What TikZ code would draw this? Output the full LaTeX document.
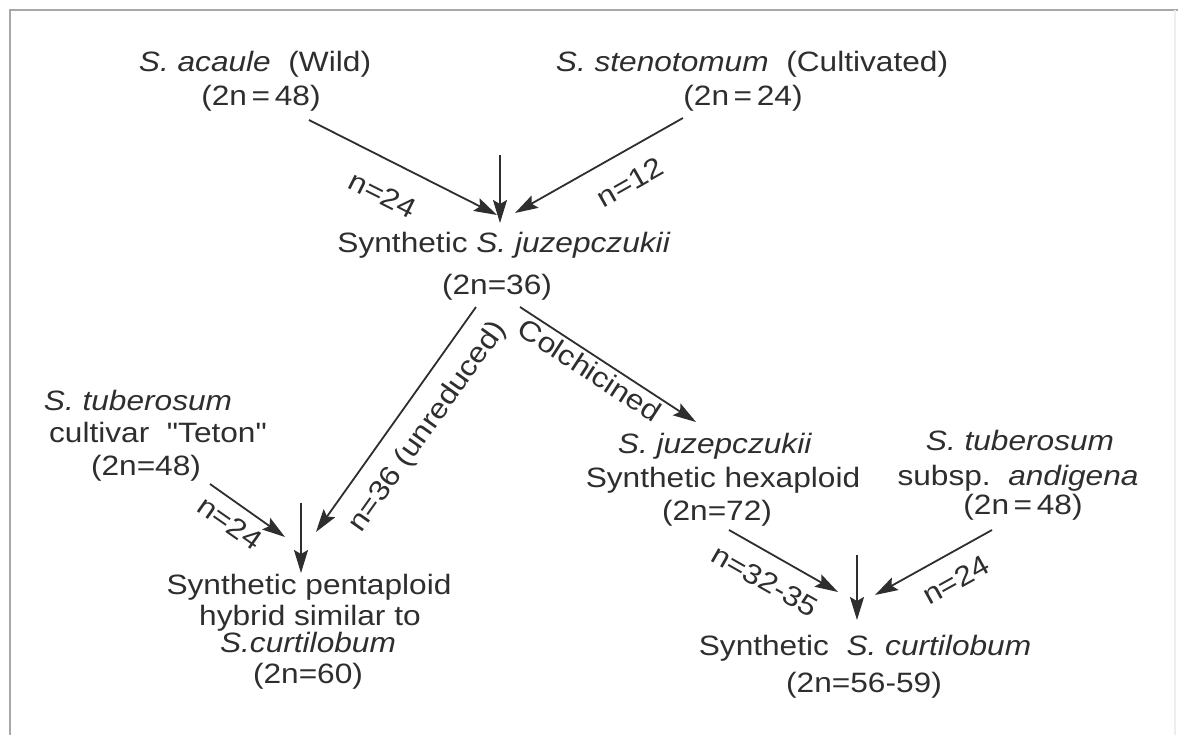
\documentclass[tikz,border=0pt]{standalone}
\usepackage{fontspec}
\setmainfont[FakeStretch=1.13, Ligatures=TeXOff]{Liberation Sans}
\usetikzlibrary{arrows.meta}
\definecolor{ink}{HTML}{2E2E2E}
\definecolor{framec}{HTML}{A8A8A8}
\definecolor{framelt}{HTML}{EEEEEE}
\begin{document}
\begin{tikzpicture}[x=1pt,y=-1pt,
  txt/.style={anchor=base, inner sep=0pt, outer sep=0pt, text=ink, font=\fontsize{28}{30}\selectfont},
  lbl/.style={inner sep=0pt, outer sep=0pt, text=ink, font=\fontsize{28}{30}\selectfont},
  arr/.style={draw=ink, line width=1.8pt, -{Stealth[length=23pt,width=14pt,inset=4pt]}},
  framel/.style={draw=framec, line width=2.5pt}]
\fill[white] (0,0) rectangle (1178,735);
\useasboundingbox (0,0) rectangle (1178,735);
% frame
\coordinate (fTL) at (10,10);
\coordinate (fTR) at (1178,10);
\coordinate (fBL) at (10,735);
\coordinate (fRT) at (1175,10);
\coordinate (fRB) at (1175,735);
\draw[framel] (fBL) -- (fTL) -- (fTR);
\draw[draw=framelt, line width=1.5pt] (fRT) -- (fRB);
% texts
\node[txt] (acA) at (255,72) {\textit{S. acaule}\ \ (Wild)};
\node[txt] (acB) at (261,106) {(2n\,=\,48)};
\node[txt] (stA) at (752,72) {\textit{S. stenotomum}\ \ (Cultivated)};
\node[txt] (stB) at (743,106) {(2n\,=\,24)};
\node[txt] (juA) at (504,253) {Synthetic \textit{S. juzepczukii}};
\node[txt] (juB) at (497,295) {(2n=36)};
\node[txt] (ttA) at (138,410) {\textit{S. tuberosum}};
\node[txt] (ttB) at (158,442) {cultivar\ \ "Teton"};
\node[txt] (ttC) at (146,475) {(2n=48)};
\node[txt] (hxA) at (715,453) {\textit{S. juzepczukii}};
\node[txt] (hxB) at (723,487) {Synthetic hexaploid};
\node[txt] (hxC) at (717,520) {(2n=72)};
\node[txt] (taA) at (1020,450) {\textit{S. tuberosum}};
\node[txt] (taB) at (1018,485) {subsp.\ \ \textit{andigena}};
\node[txt] (taC) at (1023,514) {(2n\,=\,48)};
\node[txt] (pnA) at (309,594) {Synthetic pentaploid};
\node[txt] (pnB) at (310,625) {hybrid similar to};
\node[txt] (pnC) at (308,652) {\textit{S.curtilobum}};
\node[txt] (pnD) at (308,683) {(2n=60)};
\node[txt] (cuA) at (865,655) {Synthetic\ \ \textit{S. curtilobum}};
\node[txt] (cuB) at (864,692) {(2n=56-59)};
% arrow end points
\coordinate (a1s) at (309,120);  \coordinate (a1e) at (497,215);
\coordinate (v1s) at (500,155);  \coordinate (v1e) at (500,223);
\coordinate (a2s) at (683,118);  \coordinate (a2e) at (515,213);
\coordinate (urs) at (476,307);  \coordinate (ure) at (316,532);
\coordinate (cos) at (520,307);  \coordinate (coe) at (696,422);
\coordinate (l1s) at (210,484);  \coordinate (l1e) at (285,537);
\coordinate (v2s) at (301,503);  \coordinate (v2e) at (301,573);
\coordinate (r1s) at (729,530);  \coordinate (r1e) at (838,592);
\coordinate (v3s) at (857,555);  \coordinate (v3e) at (857,620);
\coordinate (r2s) at (992,530);  \coordinate (r2e) at (875,595);
% arrows
\draw[arr] (a1s) -- (a1e);
\draw[arr] (v1s) -- (v1e);
\draw[arr] (a2s) -- (a2e);
\draw[arr] (urs) -- (ure);
\draw[arr] (cos) -- (coe);
\draw[arr] (l1s) -- (l1e);
\draw[arr] (v2s) -- (v2e);
\draw[arr] (r1s) -- (r1e);
\draw[arr] (v3s) -- (v3e);
\draw[arr] (r2s) -- (r2e);
% arrow labels
\node[lbl, rotate=-26.8] (la1) at (383,195) {n=24};
\node[lbl, rotate=29.5] (la2) at (630,182) {n=12};
\node[lbl, rotate=54.6] (lur) at (428,427) {n=36 (unreduced)};
\node[lbl, rotate=-33] (lco) at (590,370) {Colchicined};
\node[lbl, rotate=-35] (ll1) at (230,523) {n=24};
\node[lbl, rotate=-29.6] (lr1) at (765,581) {n=32-35};
\node[lbl, rotate=29] (lr2) at (956,580) {n=24};
\end{tikzpicture}
\end{document}
